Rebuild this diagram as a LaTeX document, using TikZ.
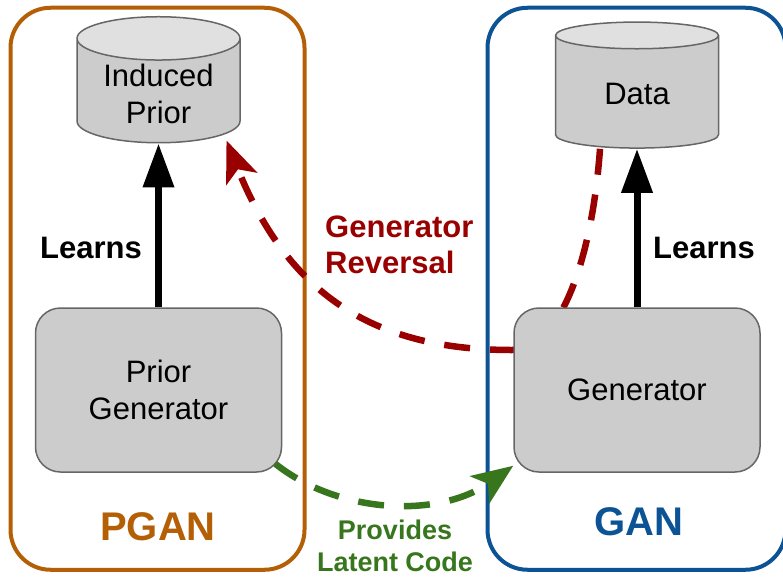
\documentclass[tikz,border=0pt]{standalone}
\usepackage{fontspec}
\setmainfont{Liberation Sans}
\usetikzlibrary{shapes.geometric,arrows.meta}
\definecolor{pganorange}{HTML}{B45F06}
\definecolor{ganblue}{HTML}{0B5394}
\definecolor{revred}{HTML}{990000}
\definecolor{codegreen}{HTML}{38761D}
\definecolor{boxgray}{HTML}{666666}
\definecolor{bodygray}{HTML}{CCCCCC}
\definecolor{topgray}{HTML}{E0E0E0}

\begin{document}
\begin{tikzpicture}[x=1pt, y=-1pt, node distance={296pt},
    frame/.style = {draw, rectangle, rounded corners=40pt, line width=4pt, minimum width=294pt, minimum height=562pt},
    store/.style = {cylinder, shape border rotate=90, shape aspect=0.37, draw=boxgray, line width=1.5pt, cylinder uses custom fill, cylinder body fill=bodygray, cylinder end fill=topgray, minimum width=163pt, minimum height=126pt, align=center, font=\fontsize{31}{37}\selectfont},
    main/.style = {draw=boxgray, fill=bodygray, rectangle, rounded corners=25pt, line width=1.5pt, minimum width=246pt, minimum height=164pt, align=center, font=\fontsize{31}{37}\selectfont},
    learns/.style = {-{Triangle[length=44pt, width=30pt]}, line width=7pt},
    back/.style = {dash pattern=on 26pt off 20pt, line width=6.5pt, -{Stealth[length=41pt, width=33pt, inset=10pt]}},
    bold/.style = {font=\fontsize{31}{36}\selectfont\bfseries, inner sep=0pt}]
    \useasboundingbox (0,0) rectangle (783,578);
    \clip (0,0) rectangle (783,578);
		\node[frame, draw=pganorange] (pgan) at (157.5,288.75) {};
		\node[frame, draw=ganblue, minimum width=298pt] (gan) at (636.5,288.75) {};
		\node[store] (ip) at (158.5,94) {Induced\\Prior};
		\node[store] (data) [right of=ip, node distance=478.5pt] {Data};
		\draw[back, color=revred] ([xshift=-37pt]data.south) .. controls (592,260) and (560,350) .. (512,350) .. controls (380,350) and (290,300) .. ([xshift=68pt, yshift=3pt]ip.south);
		\node[main] (pg) [below of=ip] {Prior\\Generator};
		\node[main] (gen) [below of=data] {Generator};
		\draw[learns] (pg) -- (ip);
		\draw[learns] (gen) -- (data);
		\draw[back, color=codegreen] ([shift={(-7,-9)}]pg.south east) .. controls (340,515) and (440,518) .. ([yshift=7pt]gen.south west);
		\node[bold] (l1) at (91,248) {Learns};
		\node[bold] (l2) at (704,248) {Learns};
		\node[bold, text=revred, align=left, anchor=west] (rev) at (325,245) {Generator\\Reversal};
		\node[bold, text=codegreen, align=center, font=\fontsize{27}{32}\selectfont\bfseries] (code) at (395,546) {Provides\\Latent Code};
		\node[bold, text=pganorange, font=\fontsize{40}{48}\selectfont\bfseries] (pganlbl) at (158,527) {PGAN};
		\node[bold, text=ganblue, font=\fontsize{40}{48}\selectfont\bfseries] (ganlbl) at (639,522) {GAN};
	\end{tikzpicture}
\end{document}
